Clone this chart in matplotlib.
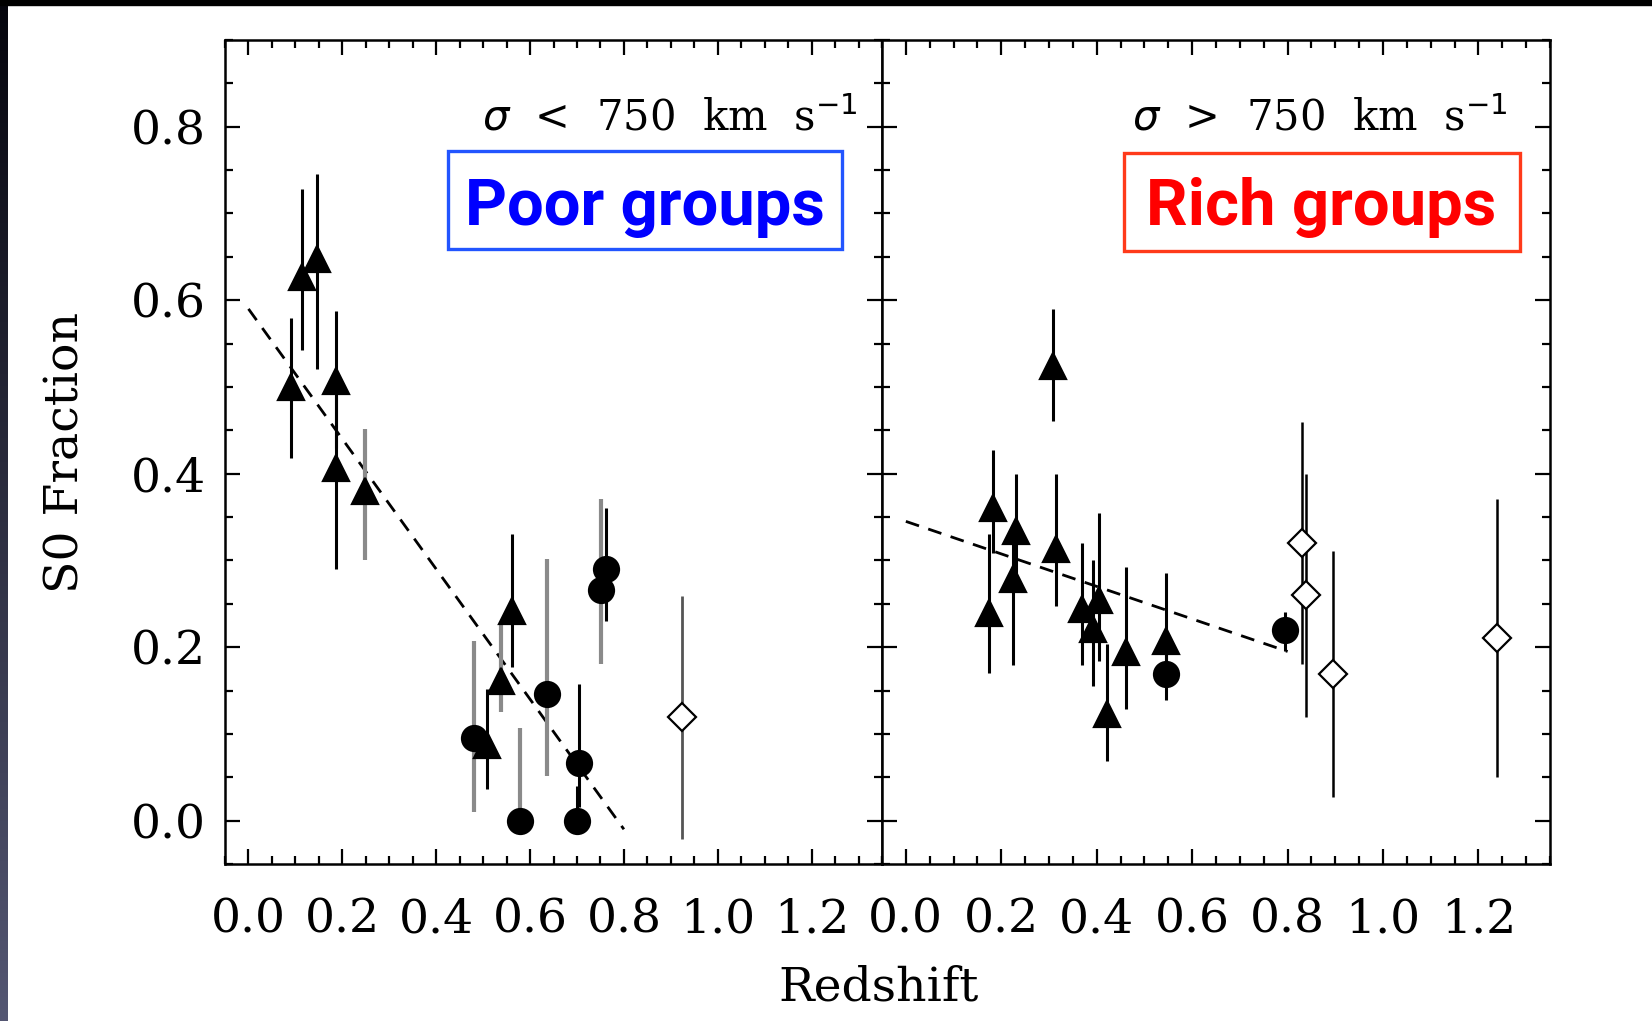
import numpy as np
import matplotlib
matplotlib.use("Agg")
import matplotlib.pyplot as plt
from matplotlib.ticker import MultipleLocator
from matplotlib.patches import Rectangle

plt.rcParams["font.family"] = ["DejaVu Serif"]

# ---- poor groups (sigma < 750 km/s) ----
poor_tri_z = [0.091, 0.115, 0.145, 0.187, 0.187, 0.509, 0.561]
poor_tri_f = [0.500, 0.627, 0.648, 0.507, 0.407, 0.087, 0.242]
poor_tri_lo = [0.418, 0.543, 0.521, 0.430, 0.290, 0.037, 0.177]
poor_tri_hi = [0.580, 0.728, 0.746, 0.588, 0.490, 0.152, 0.331]

poor_tri_grey_z = [0.249, 0.539]
poor_tri_grey_f = [0.380, 0.161]
poor_tri_grey_lo = [0.300, 0.125]
poor_tri_grey_hi = [0.452, 0.225]

poor_circ_z = [0.700, 0.705, 0.761]
poor_circ_f = [0.000, 0.066, 0.290]
poor_circ_lo = [0.000, 0.016, 0.230]
poor_circ_hi = [0.040, 0.158, 0.360]

poor_circ_grey_z = [0.481, 0.579, 0.637, 0.751]
poor_circ_grey_f = [0.095, 0.000, 0.146, 0.266]
poor_circ_grey_lo = [0.010, 0.000, 0.051, 0.180]
poor_circ_grey_hi = [0.207, 0.107, 0.302, 0.371]

poor_dia_z = [0.923]
poor_dia_f = [0.120]
poor_dia_lo = [-0.021]
poor_dia_hi = [0.259]

poor_fit_z = [0.0, 0.80]
poor_fit_f = [0.59, -0.01]

# ---- rich groups (sigma > 750 km/s) ----
rich_tri_z = [0.309, 0.182, 0.175, 0.231, 0.225, 0.315, 0.370, 0.392, 0.405, 0.422, 0.462, 0.546]
rich_tri_f = [0.524, 0.361, 0.239, 0.334, 0.279, 0.313, 0.244, 0.221, 0.254, 0.123, 0.194, 0.207]
rich_tri_lo = [0.461, 0.309, 0.170, 0.270, 0.179, 0.248, 0.179, 0.155, 0.184, 0.069, 0.129, 0.170]
rich_tri_hi = [0.590, 0.427, 0.330, 0.400, 0.330, 0.400, 0.320, 0.300, 0.355, 0.204, 0.292, 0.285]

rich_circ_z = [0.546, 0.795]
rich_circ_f = [0.169, 0.220]
rich_circ_lo = [0.139, 0.196]
rich_circ_hi = [0.200, 0.240]

rich_dia_z = [0.830, 0.838, 0.896, 1.238]
rich_dia_f = [0.320, 0.260, 0.169, 0.210]
rich_dia_lo = [0.180, 0.120, 0.027, 0.050]
rich_dia_hi = [0.460, 0.400, 0.311, 0.371]

rich_fit_z = [0.0, 0.80]
rich_fit_f = [0.345, 0.195]

xticks = [0.0, 0.2, 0.4, 0.6, 0.8, 1.0, 1.2]
yticks = [0.0, 0.2, 0.4, 0.6, 0.8]


def yerr(f, lo, hi):
    f = np.asarray(f)
    return [f - np.asarray(lo), np.asarray(hi) - f]


def points(ax, z, f, lo, hi, marker, ecolor, ms, filled=True, elw=2.2):
    ax.errorbar(z, f, yerr=yerr(f, lo, hi), fmt="none", ecolor=ecolor,
                elinewidth=elw, capsize=0, zorder=2)
    ax.plot(z, f, linestyle="none", marker=marker, ms=ms,
            mfc="black" if filled else "white", mec="black", mew=1.6, zorder=3)


def style_axes(ax):
    ax.set_xlim(-0.05, 1.35)
    ax.set_ylim(-0.05, 0.9)
    ax.xaxis.set_minor_locator(MultipleLocator(0.05))
    ax.yaxis.set_minor_locator(MultipleLocator(0.05))
    ax.set_xticks(xticks)
    ax.set_xticklabels([f"{v:.1f}" for v in xticks])
    ax.set_yticks(yticks)
    ax.set_yticklabels([f"{v:.1f}" for v in yticks])
    ax.tick_params(which="both", direction="in", top=True, right=True,
                   width=1.6, labelsize=34)
    ax.tick_params(which="major", length=11)
    ax.tick_params(which="minor", length=6)
    ax.tick_params(axis="x", pad=24)
    ax.tick_params(axis="y", pad=14)
    for s in ax.spines.values():
        s.set_linewidth(1.8)


def label_box(ax, x0, x1, y0, y1, text, tx, ty, color, edge):
    ax.add_patch(Rectangle((x0, y0), x1 - x0, y1 - y0, transform=ax.transAxes,
                           fc="white", ec=edge, lw=2.4, zorder=4))
    ax.text(tx, ty, text, transform=ax.transAxes, ha="center", va="baseline",
            fontsize=47, fontweight="bold", family="Roboto", color=color, zorder=5)


fig = plt.figure(figsize=(16.52, 10.21), dpi=100)
ax1 = fig.add_axes([0.1362, 0.1538, 0.3977, 0.8070])
ax2 = fig.add_axes([0.5339, 0.1538, 0.4044, 0.8070])

grey = "#8a8a8a"

# left panel
points(ax1, poor_tri_grey_z, poor_tri_grey_f, poor_tri_grey_lo, poor_tri_grey_hi, "^", grey, 19, elw=3)
points(ax1, poor_circ_grey_z, poor_circ_grey_f, poor_circ_grey_lo, poor_circ_grey_hi, "o", grey, 18, elw=3)
points(ax1, poor_dia_z, poor_dia_f, poor_dia_lo, poor_dia_hi, "D", "#555555", 14, filled=False, elw=2)
points(ax1, poor_tri_z, poor_tri_f, poor_tri_lo, poor_tri_hi, "^", "black", 19)
points(ax1, poor_circ_z, poor_circ_f, poor_circ_lo, poor_circ_hi, "o", "black", 18)
ax1.plot(poor_fit_z, poor_fit_f, color="black", lw=2.0, ls=(0, (5, 3.5)), zorder=1)

# right panel
points(ax2, rich_dia_z, rich_dia_f, rich_dia_lo, rich_dia_hi, "D", "black", 14, filled=False, elw=1.8)
points(ax2, rich_tri_z, rich_tri_f, rich_tri_lo, rich_tri_hi, "^", "black", 19)
points(ax2, rich_circ_z, rich_circ_f, rich_circ_lo, rich_circ_hi, "o", "black", 18)
ax2.plot(rich_fit_z, rich_fit_f, color="black", lw=2.0, ls=(0, (5, 3.5)), zorder=1)

style_axes(ax1)
style_axes(ax2)
ax2.set_yticklabels([])

ax1.set_ylabel("S0 Fraction", fontsize=34, labelpad=30)
fig.text(0.532, 0.032, "Redshift", fontsize=34, ha="center", va="center")

ax1.text(0.963, 0.890, r"$\sigma$  <  750  km  s$^{-1}$", transform=ax1.transAxes,
         ha="right", va="baseline", fontsize=30)
ax2.text(0.936, 0.890, r"$\sigma$  >  750  km  s$^{-1}$", transform=ax2.transAxes,
         ha="right", va="baseline", fontsize=30)

label_box(ax1, 0.339, 0.939, 0.746, 0.865, "Poor groups", 0.639, 0.7755, "#0000ff", "#2255ff")
label_box(ax2, 0.362, 0.955, 0.744, 0.863, "Rich groups", 0.657, 0.7755, "#ff0000", "#ff3a1a")

# slide border: black strip on top, dark gradient strip on the left
fig.patches.append(Rectangle((0, 1 - 5 / 1021), 1, 5 / 1021, transform=fig.transFigure,
                             color="black", zorder=10))
strip = fig.add_axes([0, 0, 8 / 1652, 1])
grad = np.linspace(0, 1, 256)[:, None]
cols = np.array([[0.02, 0.02, 0.05]]) * (1 - grad) + np.array([[0.33, 0.34, 0.45]]) * grad
strip.imshow(cols[:, None, :], aspect="auto", extent=[0, 1, 0, 1], origin="upper")
strip.axis("off")

fig.savefig("out.png", dpi=100)
